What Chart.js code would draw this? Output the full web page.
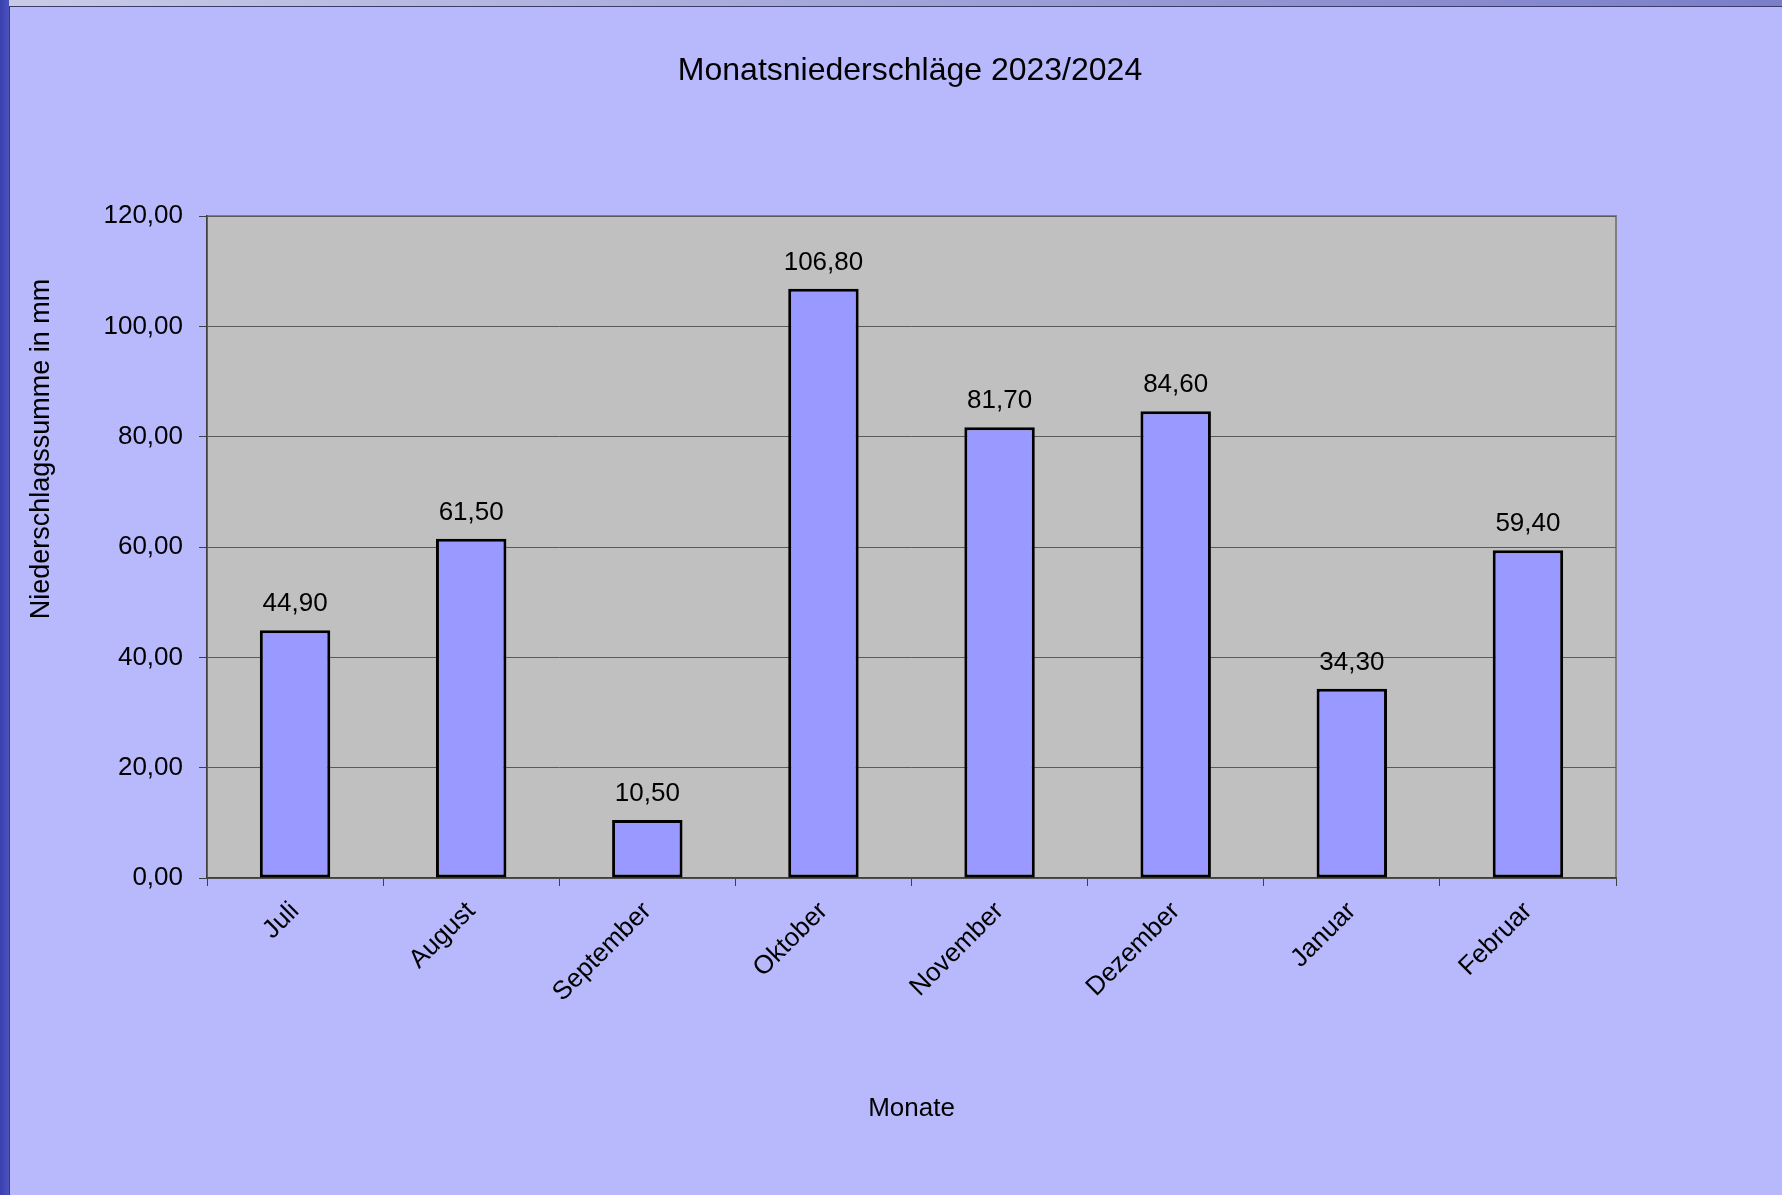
<!DOCTYPE html>
<html lang="de">
<head>
<meta charset="utf-8">
<title>Monatsniederschläge 2023/2024</title>
<script src="https://cdn.jsdelivr.net/npm/chart.js@4.4.1/dist/chart.umd.min.js"></script>
<style>
  html, body {
    margin: 0;
    padding: 0;
    width: 1782px;
    height: 1195px;
    overflow: hidden;
    background: linear-gradient(90deg, #3a40b0 0px, #4b52bc 9px, #c9cbe6 9px, #a9acdc 40%, #7a7ec8 100%);
  }
  #rahmen {
    position: absolute;
    left: 9px;
    top: 6px;
    width: 1773px;
    height: 1189px;
    border-left: 1px solid #3c3c6a;
    border-top: 1px solid #3c3c6a;
    box-sizing: border-box;
    background: #b8b8fc;
  }
  #niederschlagChart {
    position: absolute;
    left: 0;
    top: 0;
  }
</style>
</head>
<body>
<div id="rahmen">
  <canvas id="niederschlagChart" width="1772" height="1188"></canvas>
</div>
<script>
// Daten
const monate = ['Juli', 'August', 'September', 'Oktober', 'November', 'Dezember', 'Januar', 'Februar'];
const niederschlag = [44.9, 61.5, 10.5, 106.8, 81.7, 84.6, 34.3, 59.4];
const yTicks = [0, 20, 40, 60, 80, 100, 120];

const titel = 'Monatsniederschläge 2023/2024';
const yAchsenTitel = 'Niederschlagssumme in mm';
const schrift = "'Liberation Sans', Arial, sans-serif";

// Zahlen im deutschen Format: 44,90
function formatDe(v) {
  return Number(v).toFixed(2).replace('.', ',');
}

// grauer Plotbereich mit Rahmen
const plotHintergrund = {
  id: 'plotHintergrund',
  beforeDraw(chart) {
    const { ctx, chartArea: a } = chart;
    ctx.save();
    ctx.fillStyle = '#c0c0c0';
    ctx.fillRect(a.left, a.top, a.right - a.left, a.bottom - a.top);
    ctx.strokeStyle = '#808080';
    ctx.lineWidth = 2;
    ctx.strokeRect(a.left, a.top, a.right - a.left, a.bottom - a.top);
    ctx.restore();
  }
};

// Werte über den Balken
const werteBeschriftung = {
  id: 'werteBeschriftung',
  afterDatasetsDraw(chart) {
    const { ctx } = chart;
    const meta = chart.getDatasetMeta(0);
    ctx.save();
    ctx.font = '26px ' + schrift;
    ctx.fillStyle = '#000';
    ctx.textAlign = 'center';
    ctx.textBaseline = 'middle';
    meta.data.forEach((bar, i) => {
      ctx.fillText(formatDe(niederschlag[i]), bar.x, bar.y - 26);
    });
    ctx.restore();
  }
};

// Diagrammtitel und Achsentitel links (beide nicht genau mittig im Original)
const titelTexte = {
  id: 'titelTexte',
  afterDraw(chart) {
    const { ctx } = chart;
    ctx.save();
    ctx.fillStyle = '#000';
    ctx.textAlign = 'center';
    ctx.textBaseline = 'middle';

    ctx.font = '32px ' + schrift;
    ctx.fillText(titel, 900, 64);

    ctx.translate(32, 442);
    ctx.rotate(-Math.PI / 2);
    ctx.font = '27px ' + schrift;
    ctx.fillText(yAchsenTitel, 0, 0);
    ctx.restore();
  }
};

const ctx = document.getElementById('niederschlagChart').getContext('2d');
const niederschlagChart = new Chart(ctx, {
  type: 'bar',
  data: {
    labels: monate,
    datasets: [{
      label: 'Niederschlag',
      data: niederschlag,
      backgroundColor: '#9999ff',
      borderColor: '#000000',
      borderWidth: 3,
      borderSkipped: false,
      barPercentage: 0.4,
      categoryPercentage: 1.0
    }]
  },
  options: {
    responsive: false,
    animation: false,
    layout: {
      padding: { left: 0, right: 166, top: 209, bottom: 0 }
    },
    plugins: {
      legend: { display: false },
      tooltip: { enabled: false },
      title: { display: false }
    },
    scales: {
      x: {
        grid: {
          display: true,
          drawOnChartArea: false,
          offset: true,
          tickLength: 8,
          color: '#404040'
        },
        border: { color: '#404040', width: 1.5 },
        ticks: {
          color: '#000',
          font: { family: schrift, size: 26 },
          minRotation: 45,
          maxRotation: 45,
          autoSkip: false,
          padding: 10
        },
        title: {
          display: true,
          text: 'Monate',
          color: '#000',
          font: { family: schrift, size: 26 },
          padding: { top: 0, bottom: 71 }
        },
        afterFit(scale) {
          scale.height = 317;
        }
      },
      y: {
        min: 0,
        max: 120,
        afterBuildTicks(scale) {
          scale.ticks = yTicks.map(v => ({ value: v }));
        },
        grid: {
          color: '#5a5a5a',
          lineWidth: 1,
          tickLength: 8,
          tickColor: '#404040'
        },
        border: { color: '#404040', width: 1.5 },
        ticks: {
          color: '#000',
          font: { family: schrift, size: 26 },
          padding: 16,
          callback: v => formatDe(v)
        },
        afterFit(scale) {
          scale.width = 197;
        }
      }
    }
  },
  plugins: [plotHintergrund, werteBeschriftung, titelTexte]
});
</script>
</body>
</html>
